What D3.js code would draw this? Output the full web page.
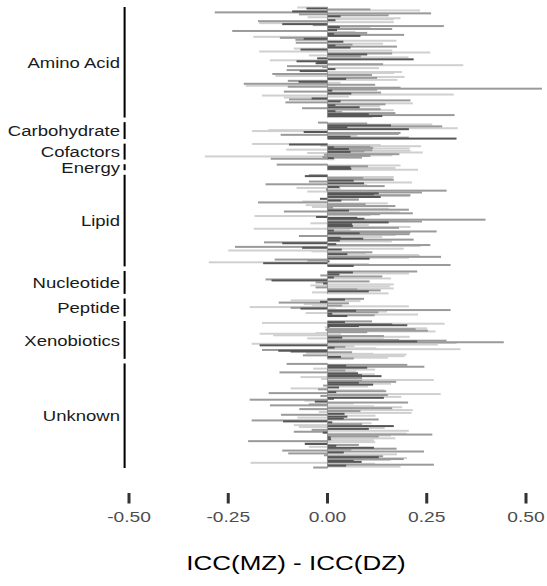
<!DOCTYPE html>
<html>
<head>
<meta charset="utf-8">
<script src="https://cdn.jsdelivr.net/npm/d3@7"></script>
<style>
  html, body { margin: 0; padding: 0; background: #fff; }
  svg { display: block; }
  text { font-family: "Liberation Sans", Arial, sans-serif; }
</style>
</head>
<body>
<svg id="chart" width="547" height="586"></svg>
<script>
// super-pathway classes, top to bottom
var classes = ["Amino Acid", "Carbohydrate", "Cofactors", "Energy", "Lipid",
  "Nucleotide", "Peptide", "Xenobiotics", "Unknown"];

// number of metabolites in each class (sets the free facet heights)
var metaboliteCounts = [111, 17, 16, 6, 92, 23, 18, 38, 105];

// ICC(MZ) - ICC(DZ) per metabolite
var aminoAcidDiff = [-0.076, -0.053, 0.108, 0.233, -0.089, -0.284, 0.261, -0.072, 0.154, 0.033,
  -0.05, 0.184, 0.167, 0.02, -0.175, 0.167, -0.172, -0.114, -0.037, 0.293,
  0.031, 0.108, 0.163, 0.024, -0.24, 0.07, 0.1, 0.016, 0.193, 0.083,
  -0.187, -0.12, -0.06, -0.081, 0.174, 0.04, -0.08, 0.14, 0.063, 0.02,
  0.175, 0.058, -0.085, -0.068, 0.163, -0.172, 0.259, 0.163, 0.1, -0.047,
  0.084, 0.204, -0.026, 0.217, -0.145, -0.078, -0.026, -0.03, 0.14, 0.342,
  -0.102, -0.013, 0.13, 0.02, -0.103, -0.07, 0.188, 0.168, -0.139, 0.112,
  -0.131, 0.194, 0.125, 0.047, 0.176, -0.1, -0.073, 0.033, -0.211, 0.12,
  -0.206, -0.1, 0.184, 0.54, 0.125, 0.012, -0.11, 0.135, 0.06, 0.318,
  -0.165, 0.054, -0.11, -0.04, -0.097, 0.209, 0.033, -0.106, 0.215, 0.146,
  0.02, 0.132, 0.081, -0.064, 0.134, 0.167, 0.02, 0.037, 0.171, 0.104,
  0.32, 0.138, 0.113];
var carbohydrateDiff = [-0.024, 0.1, 0.264, 0.16, 0.289, 0.05, 0.328, 0.205, -0.149, -0.19,
  -0.06, 0.184, 0.18, -0.118, 0.075, 0.058, 0.205, 0.325];
var cofactorsDiff = [-0.19, -0.097, 0.134, -0.018, 0.236, 0.108, 0.016, 0.115, 0.207, 0.054,
  -0.104, 0.113, 0.209, 0.093, 0.058, 0.24, -0.051, 0.167, 0.181, -0.009,
  0.163, 0.108, -0.309, -0.013, 0.087, 0.016, -0.143, 0.018];
var energyDiff = [-0.128, 0.184, 0.102, 0.058, 0.171, 0.06, 0.228];
var lipidDiff = [-0.047, -0.057, 0.167, 0.09, 0.164, 0.167, 0.066, -0.047, 0.213, 0.092,
  -0.156, 0.1, 0.144, 0.03, -0.078, 0.033, -0.003, 0.3, -0.051, 0.238,
  0.129, 0.117, 0.209,
  0.207, 0.134, 0.079, -0.019, 0.079, 0.035, -0.064, -0.175, 0.152, 0.096,
  -0.055, 0.171, -0.039, 0.014, 0.154, 0.205, 0.054, -0.11, 0.182, 0.215,
  0.132, 0.108, -0.184, -0.029, 0.075, 0.093, 0.398, 0.205, 0.238, 0.154,
  -0.043, 0.062, 0.104, 0.064, 0.209, 0.18, -0.186, 0.058, 0.016, 0.275,
  0.209, 0.081, 0.207, 0.171, -0.072, 0.138, 0.033, 0.09, 0.217, 0.031,
  0.162, -0.16, -0.114, 0.022, 0.259, 0.234, -0.233, -0.064, 0.192, 0.036,
  -0.25, -0.04, 0.113, 0.096, 0.05, 0.23, 0.233, 0.286, 0.205, 0.106,
  -0.133, -0.051, 0.005, -0.299, -0.162, 0.104, 0.31, 0.066];
var nucleotideDiff = [0.226, 0.064, 0.205, 0.03, -0.018, 0.138, 0.016, 0.16, -0.156, -0.141,
  0.106, -0.03, -0.011, 0.167, -0.043, 0.157, -0.03, 0.167, 0.075, 0.134,
  0.104, -0.039, 0.154];
var peptideDiff = [0.092, 0.044, -0.093, 0.083, -0.019, -0.123, 0.054, -0.06, -0.039, 0.037,
  0.205, -0.196, -0.093, -0.068, 0.02, 0.31, 0.072, 0.15, 0.128, -0.055,
  0.012, 0.228, 0.119, 0.05];
var xenobioticsDiff = [0.112, 0.044, -0.165, 0.295, 0.163, 0.201, 0.079, 0.005, -0.007, 0.251,
  0.222, -0.005, 0.253, 0.272, 0.1, -0.03, -0.171, 0.034, -0.137, 0.142,
  0.207, 0.037, -0.051, 0.142, 0.18, 0.3, 0.226, 0.444, 0.325, -0.191,
  0.278, -0.171, 0.068, 0.045, 0.018, 0.123, 0.335, -0.165, -0.124, -0.093,
  0.062, -0.054, 0.115, 0.199, -0.062, 0.194, 0.034, 0.152, 0.066];
var unknownDiff = [-0.103, 0.201, 0.047, 0.244, 0.1, -0.036, 0.12, 0.045, 0.073, -0.121,
  0.077, 0.119, 0.087, 0.136, -0.068, 0.087,
  -0.016, 0.268, 0.087, 0.173, 0.079, 0.16, 0.115, -0.011, 0.102, 0.029,
  -0.093, -0.024, 0.144, 0.148, 0.022, -0.148, 0.285, 0.152, -0.018, 0.186,
  0.142, 0.016, -0.196, -0.058, -0.032, 0.203, 0.066, -0.047, -0.145, 0.117,
  0.188, 0.163, -0.071, 0.215, 0.083, -0.022, 0.212, 0.043, -0.117, 0.121,
  0.05, -0.076, 0.041, 0.129, -0.191, -0.112, 0.012, 0.111, 0.087, -0.085,
  0.167, -0.072, 0.144, 0.104, -0.04, 0.205, -0.085, -0.012, 0.199, 0.264,
  0.16, 0.129, 0.008, 0.171, 0.009, 0.117, -0.2, 0.12, -0.058, -0.057,
  0.079, 0.022, -0.047, 0.117, 0.174, 0.06, -0.114, 0.243, 0.041, -0.099,
  0.175, -0.009, 0.14, 0.129, 0.2, 0.192, 0.159, 0.066, 0.086, -0.194,
  0.12, 0.268, 0.047, 0.184, -0.036];

// grey level of each bar: d = dark, m = mid, l = light (spaces only for reading)
var aminoAcidTier = "ldmldmmmmd llldmlldmm dlmdmlmdmd lmdmldmlmd mdldlllmdl mlddldddml mmldmdllmm llmdlmdlmm lmmmmdmmdl llldmmdmlm dldmmldmmd mdl";
var carbohydrateTier = "mmldmdldll dmmmldmd";
var cofactorsTier = "ldlllmdmld lmlmdlllmm lmlmmdml";
var energyTier = "mlmdldl";
var lipidTier = "mdlm lmd mld ml md ll dm lmd d m " +
  "ld l dmd l mlm lm lm l md ml m ml ld d d ml md ld ld l m lld m md ml mld d md l mdd ml md ld l lm ld l l ml d m md ldl md";
var nucleotideTier = "md ld mmd l mdm m dl ll mlm md ll";
var peptideTier = "md ll d mm l lm l lm d l md lm ld lmd";
var xenobioticsTier = "md lld d dd llm mm lm l ll lm ld ll m md ml ll d l md l l mdd m ll l mld lm";
var unknownTier = "mmd md ll m l md ld d lm " +
  "llm md ld ml d lml md mlm mld d m ld ml m ml lm mlm ll d ml d ld m md d lm ld lld ml mdl m lmd ld l ml ldm d ld m m m md ml mmd lm ld d ll md l m";

var xTicks = [-0.5, -0.25, 0, 0.25, 0.5];

var diffs = [aminoAcidDiff, carbohydrateDiff, cofactorsDiff, energyDiff, lipidDiff,
  nucleotideDiff, peptideDiff, xenobioticsDiff, unknownDiff];
var tiers = [aminoAcidTier, carbohydrateTier, cofactorsTier, energyTier, lipidTier,
  nucleotideTier, peptideTier, xenobioticsTier, unknownTier];

// the picture is stretched sideways, so draw in a narrower box and let it stretch
var W = 400, H = 586, sx = 547 / W;
var svg = d3.select("#chart")
  .attr("viewBox", "0 0 " + W + " " + H)
  .attr("preserveAspectRatio", "none");

// text gets its own sideways stretch, smaller than the marks get
function squeeze(px, y, k) {
  return "translate(" + (px / sx) + "," + y + ") scale(" + (k / sx) + ",1)";
}

var x = d3.scaleLinear().domain([-0.5, 0.5]).range([129 / sx, 526 / sx]);

var tierColor = d3.scaleOrdinal()
  .domain(["l", "m", "d"])
  .range(["#d0d0d0", "#9a9a9a", "#565656"]);

var plotTop = 7, plotBottom = 468, gap = 4.6;
var unit = (plotBottom - plotTop - gap * (classes.length - 1)) / d3.sum(metaboliteCounts);

var panels = [];
var cursor = plotTop;
classes.forEach(function(name, i) {
  var h = metaboliteCounts[i] * unit;
  panels.push({
    name: name,
    top: cursor,
    bottom: cursor + h,
    values: diffs[i],
    tiers: tiers[i].replace(/ /g, "")
  });
  cursor += h + gap;
});

var bars = [];
panels.forEach(function(p) {
  var y = d3.scaleLinear().domain([0, p.values.length]).range([p.top, p.bottom]);
  p.values.forEach(function(v, i) {
    bars.push({ value: v, tier: p.tiers[i] || "m", y: y(i + 0.5) });
  });
});

// light bars underneath, dark ones on top
var order = { l: 0, m: 1, d: 2 };
bars.sort(function(a, b) { return order[a.tier] - order[b.tier]; });

var barH = 2;

svg.append("g")
  .attr("class", "bars")
  .selectAll("rect")
  .data(bars)
  .enter().append("rect")
  .attr("x", function(d) { return x(Math.min(0, d.value)); })
  .attr("width", function(d) { return Math.abs(x(d.value) - x(0)); })
  .attr("y", function(d) { return d.y - barH / 2; })
  .attr("height", barH)
  .attr("fill", function(d) { return tierColor(d.tier); });

svg.append("g")
  .attr("class", "zero")
  .selectAll("line")
  .data(panels)
  .enter().append("line")
  .attr("x1", x(0)).attr("x2", x(0))
  .attr("y1", function(d) { return d.top; })
  .attr("y2", function(d) { return d.bottom; })
  .attr("stroke", "#8a8a8a")
  .attr("stroke-width", 0.7);

// facet strips: a bar per class plus its name
svg.append("g")
  .attr("class", "strips")
  .selectAll("line")
  .data(panels)
  .enter().append("line")
  .attr("x1", 124.6 / sx).attr("x2", 124.6 / sx)
  .attr("y1", function(d) { return d.top; })
  .attr("y2", function(d) { return d.bottom; })
  .attr("stroke", "#000")
  .attr("stroke-width", 1.5);

svg.append("g")
  .attr("class", "stripLabels")
  .selectAll("text")
  .data(panels)
  .enter().append("text")
  .attr("transform", function(d) { return squeeze(120, (d.top + d.bottom) / 2 + 5.6, 1.195); })
  .attr("text-anchor", "end")
  .attr("font-size", "15.5px")
  .attr("fill", "#1a1a1a")
  .text(function(d) { return d.name; });

// x axis
var axis = svg.append("g").attr("class", "xaxis");

axis.selectAll("line")
  .data(xTicks)
  .enter().append("line")
  .attr("x1", function(d) { return x(d); })
  .attr("x2", function(d) { return x(d); })
  .attr("y1", 493)
  .attr("y2", 503.5)
  .attr("stroke", "#333")
  .attr("stroke-width", 2.2);

axis.selectAll("text")
  .data(xTicks)
  .enter().append("text")
  .attr("transform", function(d) { return squeeze(x(d) * sx, 522, 1.28); })
  .attr("text-anchor", "middle")
  .attr("font-size", "15px")
  .attr("fill", "#4d4d4d")
  .text(function(d) { return d3.format(".2f")(d).replace("\u2212", "-"); });

svg.append("text")
  .attr("transform", squeeze(296, 569.5, 1.3))
  .attr("text-anchor", "middle")
  .attr("font-size", "20px")
  .attr("fill", "#000")
  .text("ICC(MZ) - ICC(DZ)");
</script>
</body>
</html>
